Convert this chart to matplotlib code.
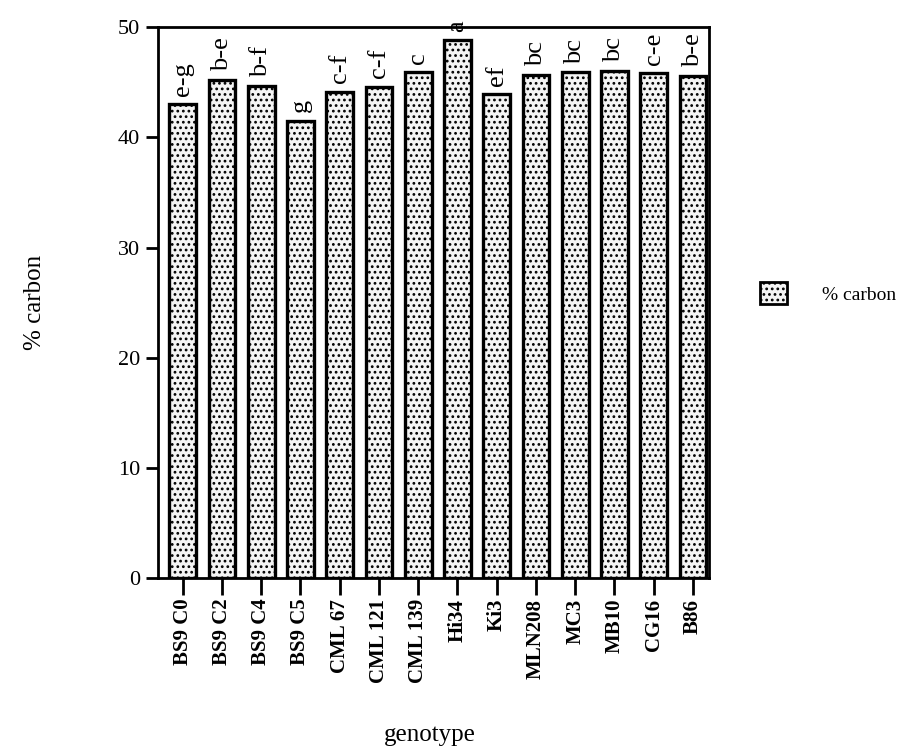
import matplotlib
matplotlib.use("Agg")
import matplotlib.pyplot as plt
from matplotlib.patches import Patch

genotypes = ["BS9 C0", "BS9 C2", "BS9 C4", "BS9 C5", "CML 67", "CML 121",
             "CML 139", "Hi34", "Ki3", "MLN208", "MC3", "MB10", "CG16", "B86"]
carbon = [43.0, 45.2, 44.7, 41.5, 44.1, 44.6, 45.9, 48.8, 43.9, 45.7,
          45.9, 46.0, 45.8, 45.6]
groups = ["e-g", "b-e", "b-f", "g", "c-f", "c-f", "c", "a", "ef", "bc",
          "bc", "bc", "c-e", "b-e"]
yticks = [0, 10, 20, 30, 40, 50]

plt.rcParams["font.family"] = ["Liberation Serif", "DejaVu Serif"]
plt.rcParams["hatch.linewidth"] = 1.2

fig = plt.figure(figsize=(9.06, 7.56), dpi=100)
ax = fig.add_axes([0.174, 0.2354, 0.6086, 0.7286])

x = list(range(len(genotypes)))
ax.bar(x, carbon, width=0.68, facecolor="#f4f4f4", edgecolor="black",
       linewidth=2.4, hatch="...", label="% carbon")

for xi, v, g in zip(x, carbon, groups):
    ax.text(xi, v + 0.8, g, rotation=90, ha="center", va="bottom",
            fontsize=19, clip_on=False)

ax.set_xlim(-0.64, 13.41)
ax.set_ylim(0, 50)
ax.set_yticks(yticks)
ax.set_xticks(x)
ax.set_xticklabels(genotypes, rotation=90, fontsize=15, fontweight="bold")
ax.tick_params(axis="both", direction="out", width=2, color="black")
ax.tick_params(axis="x", length=12, pad=3)
ax.tick_params(axis="y", length=9, labelsize=16)
for s in ax.spines.values():
    s.set_linewidth(2)

ax.set_ylabel("% carbon", fontsize=18, labelpad=52)
fig.text(430 / 906, 1 - 735 / 756, "genotype", fontsize=18,
         ha="center", va="center")

handle = Patch(facecolor="#f4f4f4", edgecolor="black", hatch="...",
               linewidth=2)
ax.legend([handle], ["% carbon"], loc="center left",
          bbox_to_anchor=(1.06, 0.517), frameon=False, fontsize=14,
          handlelength=1.4, handleheight=1.4, handletextpad=1.8)

fig.savefig("out.png", dpi=100)
